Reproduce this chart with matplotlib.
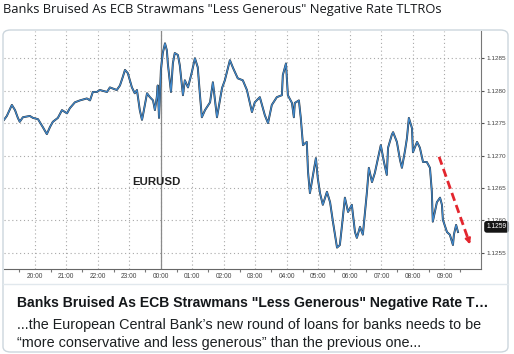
import matplotlib.pyplot as plt
from matplotlib.patches import FancyBboxPatch
from matplotlib.lines import Line2D

# --- data (hours after 20:00, EURUSD price) ---
hours = [-0.98, -0.89, -0.73, -0.63, -0.54, -0.48, -0.38, -0.16, -0.06, 0.10,
         0.25, 0.38, 0.48, 0.57, 0.73, 0.86, 1.02, 1.11, 1.27, 1.43,
         1.65, 1.75, 1.84, 1.97, 2.06, 2.29, 2.38, 2.60, 2.70, 2.79,
         2.86, 2.95, 3.08, 3.17, 3.24, 3.33, 3.40, 3.43, 3.56, 3.65,
         3.75, 3.81, 3.87, 3.90, 3.94, 4.00, 4.06, 4.13, 4.19, 4.22,
         4.32, 4.38, 4.44, 4.54, 4.60, 4.70, 4.76, 4.86, 4.98, 5.08,
         5.17, 5.24, 5.30, 5.40, 5.56, 5.65, 5.78, 5.94, 6.03, 6.19,
         6.29, 6.44, 6.60, 6.73, 6.89, 6.98, 7.14, 7.30, 7.40, 7.52,
         7.68, 7.84, 7.87, 7.97, 8.03, 8.16, 8.22, 8.25, 8.38, 8.44,
         8.51, 8.63, 8.67, 8.73, 8.83, 8.92, 8.98, 9.05, 9.14, 9.27,
         9.37, 9.46, 9.59, 9.68, 9.75, 9.84, 9.94, 10.06, 10.16, 10.22,
         10.32, 10.41, 10.54, 10.60, 10.70, 10.79, 10.89, 10.98, 11.08, 11.17,
         11.21, 11.33, 11.37, 11.49, 11.59, 11.65, 11.75, 11.81, 11.87, 11.97,
         12.00, 12.13, 12.22, 12.32, 12.44, 12.54, 12.60, 12.63, 12.76, 12.86,
         12.92, 12.95, 13.08, 13.17, 13.27, 13.30, 13.37, 13.43]
price = [1.12755, 1.12761, 1.12778, 1.12770, 1.12758, 1.12752, 1.12759, 1.12761, 1.12758, 1.12756,
         1.12744, 1.12733, 1.12744, 1.12752, 1.12758, 1.12770, 1.12765, 1.12773, 1.12782, 1.12785,
         1.12788, 1.12785, 1.12798, 1.12798, 1.12801, 1.12798, 1.12805, 1.12801, 1.12808, 1.12821,
         1.12832, 1.12827, 1.12805, 1.12796, 1.12801, 1.12770, 1.12755, 1.12762, 1.12796, 1.12790,
         1.12785, 1.12770, 1.12790, 1.12808, 1.12758, 1.12832, 1.12858, 1.12873, 1.12862, 1.12842,
         1.12798, 1.12842, 1.12858, 1.12855, 1.12839, 1.12793, 1.12816, 1.12805, 1.12828, 1.12850,
         1.12836, 1.12793, 1.12759, 1.12770, 1.12782, 1.12813, 1.12759, 1.12804, 1.12816, 1.12847,
         1.12835, 1.12819, 1.12816, 1.12801, 1.12767, 1.12782, 1.12790, 1.12762, 1.12750, 1.12778,
         1.12790, 1.12793, 1.12824, 1.12842, 1.12793, 1.12781, 1.12759, 1.12781, 1.12785, 1.12758,
         1.12716, 1.12721, 1.12675, 1.12642, 1.12670, 1.12696, 1.12665, 1.12642, 1.12624, 1.12644,
         1.12628, 1.12598, 1.12558, 1.12562, 1.12593, 1.12635, 1.12613, 1.12624, 1.12582, 1.12573,
         1.12590, 1.12578, 1.12644, 1.12681, 1.12659, 1.12673, 1.12696, 1.12716, 1.12690, 1.12670,
         1.12712, 1.12732, 1.12736, 1.12721, 1.12693, 1.12681, 1.12708, 1.12727, 1.12758, 1.12742,
         1.12705, 1.12721, 1.12712, 1.12690, 1.12690, 1.12681, 1.12644, 1.12598, 1.12628, 1.12635,
         1.12624, 1.12601, 1.12582, 1.12578, 1.12562, 1.12578, 1.12593, 1.12582]

hour_ticks = list(range(14))
hour_labels = ['20:00', '21:00', '22:00', '23:00', '00:00', '01:00', '02:00',
               '03:00', '04:00', '05:00', '06:00', '07:00', '08:00', '09:00']
price_ticks = [1.1255, 1.1260, 1.1265, 1.1270, 1.1275, 1.1280, 1.1285]
last_price = 1.1259
arrow_start = (12.83, 1.12698)
arrow_end = (13.84, 1.12559)

title = 'Banks Bruised As ECB Strawmans "Less Generous" Negative Rate TLTROs'
card_title = 'Banks Bruised As ECB Strawmans "Less Generous" Negative Rate T\u2026'
card_text = ['...the European Central Bank\u2019s new round of loans for banks needs to be',
             '\u201cmore conservative and less generous\u201d than the previous one...']

W, H = 514, 354
fig = plt.figure(figsize=(W / 100, H / 100), dpi=100)
fig.patch.set_facecolor('white')

def fx(px):
    return px / W

def fy(py):
    return 1 - py / H

# header line above the card
fig.text(fx(3), fy(10), title, fontsize=9.3, family='Open Sans', color='#14171a', va='center')

# card outline
card = FancyBboxPatch((fx(3), fy(352)), fx(505), 322 / H,
                      boxstyle='round,pad=0,rounding_size=0.015',
                      transform=fig.transFigure, facecolor='none',
                      edgecolor='#ccd6dd', lw=1.0)
fig.patches.append(card)
fig.add_artist(Line2D([fx(3), fx(508)], [fy(284), fy(284)], color='#e1e8ed', lw=1.0))

# --- chart ---
ax = fig.add_axes([fx(4), fy(269), fx(477), (269 - 31) / H])
ax.set_xlim(-0.98, 14.16)
ax.set_ylim(1.12525, 1.12892)

for t in hour_ticks:
    ax.axvline(t, color='#a8a8a8', ls=(0, (1, 2.5)), lw=0.8, zorder=1)
for p in price_ticks:
    ax.axhline(p, color='#a8a8a8', ls=(0, (1, 2.5)), lw=0.8, zorder=1)
ax.axvline(4, color='#8a8a8a', lw=0.9, zorder=2)

ax.plot(hours, price, color='#2a2a2a', lw=1.4, zorder=3)
ax.plot(hours, price, color='#3f88cc', lw=0.9, zorder=4)

ax.text(3.87, 1.12659, 'EURUSD', fontsize=8.2, fontweight='bold',
        family='Liberation Sans', color='#222222', ha='center', va='center')

# red dashed trend arrow
ax.plot([arrow_start[0], arrow_end[0] - 0.05], [arrow_start[1], arrow_end[1] + 0.00007],
        color='#e3262e', lw=2.0, ls=(0, (3, 1.6)), zorder=5)
ax.annotate('', xy=arrow_end, xytext=(arrow_end[0] - 0.12, arrow_end[1] + 0.00017),
            arrowprops=dict(arrowstyle='-|>', color='#e3262e', lw=1.5,
                            mutation_scale=8), zorder=5)

for s in ['left', 'top']:
    ax.spines[s].set_visible(False)
ax.spines['bottom'].set_color('#666666')
ax.spines['right'].set_color('#777777')
ax.spines['bottom'].set_linewidth(0.8)
ax.spines['right'].set_linewidth(0.8)

ax.yaxis.tick_right()
ax.set_yticks(price_ticks)
ax.set_yticklabels(['%.4f' % p for p in price_ticks])
ax.tick_params(axis='y', direction='out', length=2.5, width=0.8, pad=1.5,
               labelsize=4.6, colors='#555555', labelcolor='#444444')

ax.set_xticks([t - 0.5 for t in hour_ticks] + [13.5])
ax.set_xticklabels([])
ax.set_xticks(hour_ticks, minor=True)
ax.set_xticklabels(hour_labels, minor=True)
ax.tick_params(axis='x', which='major', direction='out', length=2.5, width=0.8, colors='#777777')
ax.tick_params(axis='x', which='minor', length=0, pad=3, labelsize=4.8, labelcolor='#444444')
for lab in ax.get_yticklabels() + ax.get_xticklabels(minor=True):
    lab.set_family('Liberation Sans')

ax.annotate('%.4f' % last_price, xy=(1, last_price), xycoords=('axes fraction', 'data'),
            xytext=(4, 0), textcoords='offset points', fontsize=4.8,
            family='Liberation Sans', color='white', va='center', ha='left',
            bbox=dict(boxstyle='round,pad=0.25,rounding_size=0.3', fc='#151515', ec='#151515'))

# --- text under the image ---
fig.text(fx(17), fy(303), card_title, fontsize=10.1, fontweight='bold',
         family='Liberation Sans', color='#14171a', va='center')
fig.text(fx(17), fy(325), card_text[0], fontsize=10.4, family='Liberation Sans',
         color='#1c2022', va='center')
fig.text(fx(17), fy(343), card_text[1], fontsize=10.4, family='Liberation Sans',
         color='#1c2022', va='center')

fig.savefig('out.png', dpi=100)
